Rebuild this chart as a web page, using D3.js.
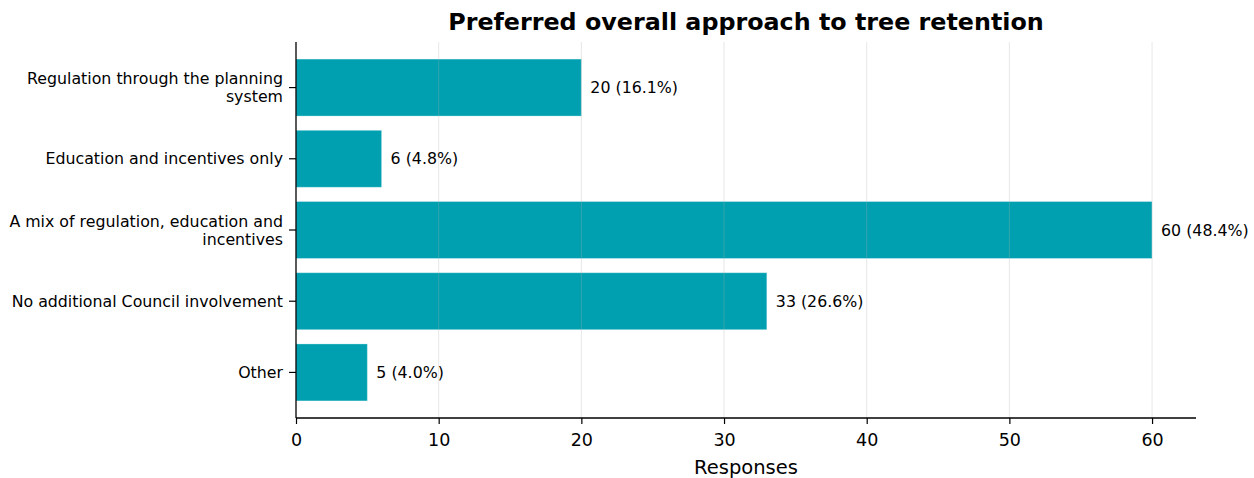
<!DOCTYPE html>
<html><head><meta charset="utf-8">
<script src="https://cdn.jsdelivr.net/npm/d3@7"></script>
<style>body{margin:0;background:#fff;}svg{display:block;font-family:"DejaVu Sans",sans-serif;}</style>
</head><body><svg id="c" width="1254" height="478"></svg>
<script>
const categories = [
  ["Regulation through the planning", "system"],
  ["Education and incentives only"],
  ["A mix of regulation, education and", "incentives"],
  ["No additional Council involvement"],
  ["Other"]
];
const values = [20, 6, 60, 33, 5];
const labels = ["20 (16.1%)", "6 (4.8%)", "60 (48.4%)", "33 (26.6%)", "5 (4.0%)"];
const xTicks = [0, 10, 20, 30, 40, 50, 60];
const title = "Preferred overall approach to tree retention";
const xLabel = "Responses";

const svg = d3.select("#c");
const L = 296, R = 1196, T = 42, B = 418;
const x = d3.scaleLinear().domain([0, 63.08]).range([L, R]);
const y = d3.scaleLinear().domain([-0.64, 4.64]).range([T, B]);
const bh = 0.8;
const color = "#00A0B0";

svg.append("g").selectAll("rect").data(values).join("rect")
  .attr("x", x(0)).attr("y", (d,i) => y(i - bh/2))
  .attr("width", d => x(d) - x(0)).attr("height", y(bh) - y(0))
  .attr("fill", color).attr("stroke", "#ffffff").attr("stroke-opacity", 0.3).attr("stroke-width", 1);

svg.append("g").selectAll("line").data(xTicks.filter(t => t > 0)).join("line")
  .attr("x1", d => x(d)).attr("x2", d => x(d)).attr("y1", T).attr("y2", B)
  .attr("stroke", "#b0b0b0").attr("stroke-opacity", 0.3).attr("stroke-width", 1);

svg.append("g").selectAll("text").data(values).join("text")
  .attr("x", d => x(d) + 9).attr("y", (d,i) => y(i)).attr("dy", "0.35em")
  .attr("font-size", 15.8).attr("fill", "#000").text((d,i) => labels[i]);

const xa = svg.append("g").attr("transform", `translate(0,${B})`)
  .call(d3.axisBottom(x).tickValues(xTicks).tickSize(6).tickPadding(10).tickFormat(d3.format("d")));
xa.select(".domain").attr("d", `M${L},0H${R}`).attr("stroke", "#000").attr("stroke-width", 1.3);
xa.selectAll(".tick line").attr("stroke", "#000").attr("stroke-width", 1.2);
xa.selectAll(".tick text").attr("font-size", 17.5).attr("font-family", "DejaVu Sans").attr("fill", "#000");

const ya = svg.append("g");
ya.append("line").attr("x1", L).attr("x2", L).attr("y1", T).attr("y2", B).attr("stroke", "#000").attr("stroke-width", 1.3);
const yt = ya.selectAll("g").data(categories).join("g").attr("transform", (d,i) => `translate(${L},${y(i)})`);
yt.append("line").attr("x1", -7).attr("x2", 0).attr("stroke", "#000").attr("stroke-width", 1.2);
yt.append("text").attr("text-anchor", "end").attr("font-size", 15.8).attr("fill", "#000")
  .selectAll("tspan").data(d => d).join("tspan")
  .attr("x", -13)
  .attr("y", (t, j, nodes) => (j - (nodes.length - 1) / 2) * 18)
  .attr("dy", "0.35em").text(t => t);

svg.append("text").attr("x", 746).attr("y", 30).attr("text-anchor", "middle")
  .attr("font-size", 23.8).attr("font-weight", "bold").text(title);
svg.append("text").attr("x", 746).attr("y", 474).attr("text-anchor", "middle")
  .attr("font-size", 19.5).text(xLabel);
</script></body></html>
